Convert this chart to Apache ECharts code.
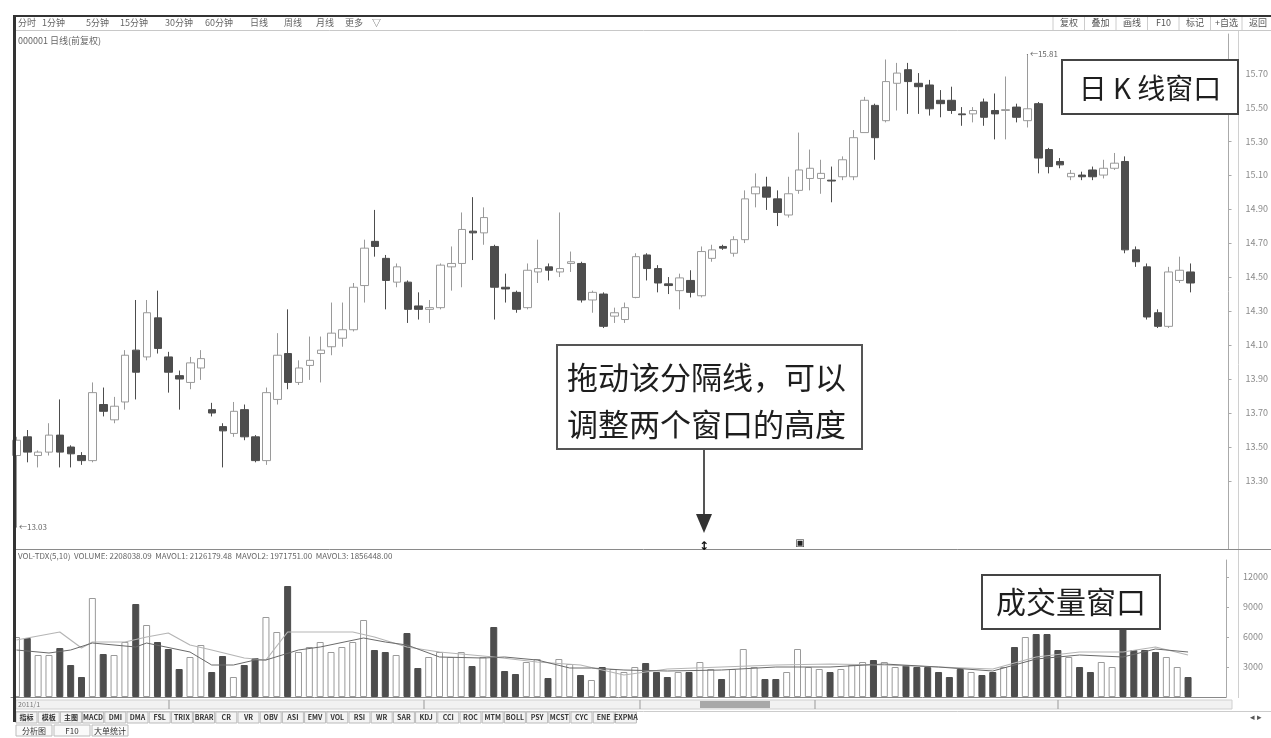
<!DOCTYPE html>
<html><head><meta charset="utf-8">
<script src="https://cdn.jsdelivr.net/npm/echarts/dist/echarts.min.js"></script>
<style>html,body{margin:0;padding:0;background:#fff}#c{width:1271px;height:738px}</style>
</head><body><div id="c"></div>
<script>
// ---------- data ----------
const categories = Array.from({length: 112}, (_, i) => 'D' + (i + 1));
const opens = [13.45,13.56,13.45,13.47,13.57,13.50,13.45,13.42,13.75,13.66,
13.765,14.07,14.03,14.26,14.03,13.92,13.88,13.965,13.72,13.62,
13.58,13.72,13.56,13.42,13.78,14.05,13.88,13.98,14.05,14.09,
14.14,14.19,14.45,14.71,14.61,14.47,14.47,14.33,14.31,14.32,
14.56,14.58,14.77,14.76,14.68,14.44,14.41,14.32,14.53,14.56,
14.53,14.58,14.58,14.365,14.40,14.27,14.25,14.38,14.63,14.55,
14.46,14.42,14.48,14.39,14.61,14.68,14.64,14.72,14.99,15.03,
14.96,14.865,15.01,15.08,15.08,15.07,15.09,15.09,15.35,15.51,
15.42,15.64,15.72,15.64,15.63,15.54,15.54,15.46,15.46,15.53,
15.48,15.48,15.50,15.42,15.52,15.25,15.18,15.09,15.10,15.13,
15.10,15.14,15.18,14.66,14.56,14.29,14.21,14.48,14.53];
const closes = [13.54,13.47,13.47,13.57,13.47,13.46,13.42,13.82,13.71,13.74,
14.04,13.94,14.29,14.08,13.94,13.90,13.995,14.02,13.70,13.595,
13.71,13.56,13.42,13.82,14.04,13.88,13.965,14.01,14.07,14.17,
14.19,14.44,14.67,14.68,14.48,14.56,14.31,14.31,14.32,14.57,
14.58,14.78,14.76,14.85,14.44,14.43,14.31,14.54,14.55,14.54,
14.55,14.59,14.365,14.41,14.21,14.29,14.32,14.62,14.55,14.465,
14.45,14.495,14.41,14.65,14.66,14.67,14.72,14.96,15.03,14.97,
14.88,14.99,15.13,15.14,15.11,15.065,15.19,15.32,15.54,15.32,
15.65,15.70,15.65,15.62,15.49,15.52,15.48,15.455,15.48,15.44,
15.46,15.485,15.44,15.49,15.20,15.15,15.16,15.11,15.09,15.09,
15.14,15.17,14.66,14.59,14.265,14.21,14.53,14.54,14.465];
const lows = [13.03,13.41,13.38,13.45,13.38,13.38,13.395,13.41,13.68,13.64,
13.72,13.78,14.01,14.05,13.82,13.72,13.84,13.895,13.68,13.38,
13.56,13.54,13.41,13.395,13.75,13.84,13.865,13.895,13.88,14.04,
14.09,14.18,14.35,14.62,14.31,14.44,14.23,14.25,14.23,14.31,
14.42,14.44,14.60,14.69,14.25,14.35,14.29,14.31,14.465,14.48,
14.50,14.53,14.35,14.29,14.20,14.23,14.23,14.375,14.48,14.41,
14.40,14.31,14.38,14.38,14.59,14.66,14.62,14.70,14.91,14.895,
14.80,14.85,14.99,15.01,14.99,14.94,15.07,15.07,15.35,15.19,
15.41,15.48,15.46,15.46,15.45,15.44,15.46,15.39,15.41,15.39,
15.31,15.31,15.41,15.38,15.11,15.11,15.14,15.07,15.07,15.07,
15.08,15.13,14.64,14.56,14.25,14.20,14.20,14.465,14.41];
const highs = [13.56,13.60,13.48,13.64,13.78,13.51,13.47,13.88,13.85,13.795,
14.07,14.365,14.365,14.42,14.06,13.95,14.03,14.07,13.76,13.64,
13.765,13.75,13.57,13.85,14.17,14.31,14.01,14.15,14.15,14.35,
14.35,14.465,14.72,14.895,14.63,14.58,14.48,14.41,14.365,14.58,
14.68,14.88,14.97,14.91,14.69,14.52,14.42,14.58,14.72,14.58,
14.88,14.65,14.59,14.42,14.41,14.32,14.35,14.64,14.64,14.57,
14.50,14.52,14.54,14.68,14.69,14.69,14.74,15.01,15.11,15.09,
15.01,15.09,15.35,15.25,15.19,15.15,15.21,15.365,15.56,15.52,
15.78,15.76,15.76,15.70,15.66,15.60,15.62,15.50,15.50,15.55,
15.58,15.68,15.52,15.81,15.53,15.26,15.20,15.13,15.12,15.15,
15.19,15.23,15.21,14.68,14.58,14.31,14.56,14.62,14.58];
const volumes = [6000,5900,4200,4200,4900,3200,2000,9900,4300,4200,
5500,9300,7200,5500,4800,2800,4000,5200,2500,4100,
2000,3200,3900,8000,6500,11100,4500,5000,5500,4500,
5000,5500,7700,4700,4500,4200,6400,2900,4000,4500,
4000,4500,3100,4000,7000,2600,2300,3500,3800,1900,
3800,3300,2200,1700,3000,2800,2500,3000,3400,2500,
2000,2500,2500,3500,2800,1800,2800,4800,3000,1800,
1800,2500,4800,3000,2800,2500,2800,3200,3500,3700,
3500,3000,3200,3000,3000,2500,2000,2800,2500,2200,
2500,3000,5000,6000,6300,6300,4700,4000,3000,2500,
3500,3000,7200,4700,4700,4500,4000,3000,2000];
// volume average lines, read at points along the curves (others left empty)
const volLineA = [5700,null,null,null,6500,null,4900,5500,null,null,5500,null,6000,null,6400,null,5200,null,4700,null,
null,3900,null,3700,null,6500,null,null,6500,null,null,6500,null,6000,null,null,5000,null,null,4500,
null,null,null,null,4000,null,null,null,3500,null,null,null,3200,null,null,null,2200,null,null,null,
2800,null,null,null,null,3000,null,null,null,null,3200,null,null,null,null,3300,null,null,null,null,
3200,null,null,null,null,3000,null,null,null,null,2800,null,null,null,4000,null,null,null,4500,null,
null,null,4500,null,null,5000,null,null,4200];
const volLineB = [4700,null,null,4400,null,4700,null,5400,null,null,null,5000,5400,null,null,null,4500,null,3200,null,
3200,null,3700,3700,null,null,4700,null,5000,null,null,null,5900,null,5500,null,5200,null,null,4000,
null,null,null,3900,null,4000,null,null,3700,null,null,2900,null,2900,null,null,2700,null,null,null,
2600,null,null,null,null,2700,null,null,null,null,3000,null,null,null,null,3000,null,null,null,null,
3300,null,null,null,null,3000,null,null,null,null,2600,null,null,null,3800,null,null,null,4200,null,
null,null,4000,null,null,4800,null,null,4500];
const priceTicks = [13.30,13.50,13.70,13.90,14.10,14.30,14.50,14.70,14.90,15.10,15.30,15.50,15.70];
const volTicks = [3000,6000,9000,12000];
const toolbarLeft = ['分时','1分钟','5分钟','15分钟','30分钟','60分钟','日线','周线','月线','更多','▽'];
const toolbarRight = ['复权','叠加','画线','F10','标记','+自选','返回'];
const bottomTabs = ['指标','模板','主图','MACD','DMI','DMA','FSL','TRIX','BRAR','CR','VR','OBV','ASI','EMV','VOL','RSI','WR','SAR','KDJ','CCI','ROC','MTM','BOLL','PSY','MCST','CYC','ENE','EXPMA'];
const bottomTabs2 = ['分析图','F10','大单统计'];

// ---------- chart ----------
const chart = echarts.init(document.getElementById('c'));
const candleData = opens.map((o, i) => [o, closes[i], lows[i], highs[i]]);
const volData = volumes.map((v, i) => ({
  value: v,
  itemStyle: closes[i] < opens[i]
    ? {color: '#4d4d4d', borderColor: '#4d4d4d', borderWidth: 1}
    : {color: '#ffffff', borderColor: '#9a9a9a', borderWidth: 1}
}));
const F = '"Noto Sans CJK SC", "Noto Sans", sans-serif';

const graphics = [];
// frame
graphics.push({type:'rect', shape:{x:13,y:15,width:3,height:707}, style:{fill:'#333'}, z:100});
graphics.push({type:'rect', shape:{x:13,y:15,width:1258,height:2}, style:{fill:'#333'}, z:100});
graphics.push({type:'line', shape:{x1:16,y1:30.5,x2:1271,y2:30.5}, style:{stroke:'#c8c8c8',lineWidth:1}});
graphics.push({type:'line', shape:{x1:16,y1:549.5,x2:1271,y2:549.5}, style:{stroke:'#8a8a8a',lineWidth:1}, z:50});
graphics.push({type:'line', shape:{x1:1238.5,y1:31,x2:1238.5,y2:698}, style:{stroke:'#d0d0d0',lineWidth:1}});
// toolbar
const tlX = [18,42,86,120,165,205,250,284,316,345,372];
toolbarLeft.forEach((t, i) => graphics.push({type:'text', x:tlX[i], y:23, style:{text:t, fill:'#666', font:'9px ' + F, textVerticalAlign:'middle'}}));
toolbarRight.forEach((t, i) => {
  graphics.push({type:'line', shape:{x1:1053 + i*31.5, y1:17, x2:1053 + i*31.5, y2:30}, style:{stroke:'#ccc'}});
  graphics.push({type:'text', x:1069 + i*31.5, y:23, style:{text:t, fill:'#555', font:'9px ' + F, textAlign:'center', textVerticalAlign:'middle'}});
});
graphics.push({type:'text', x:18, y:41, style:{text:'000001 日线(前复权)', fill:'#666', font:'9px ' + F, textVerticalAlign:'middle'}});
graphics.push({type:'text', x:18, y:556, style:{text:'VOL-TDX(5,10)  VOLUME: 2208038.09  MAVOL1: 2126179.48  MAVOL2: 1971751.00  MAVOL3: 1856448.00', fill:'#666', font:'8px ' + F, textVerticalAlign:'middle'}, z:60});
// bottom strip
graphics.push({type:'rect', shape:{x:16,y:700,width:1216,height:9}, style:{fill:'#f2f2f2', stroke:'#d0d0d0'}});
graphics.push({type:'rect', shape:{x:700,y:701,width:70,height:7}, style:{fill:'#a8a8a8'}});
graphics.push({type:'text', x:18, y:704.5, style:{text:'2011/1', fill:'#777', font:'7px ' + F, textVerticalAlign:'middle'}});
[169, 424, 640, 815, 1058].forEach(x => graphics.push({type:'line', shape:{x1:x,y1:700,x2:x,y2:709}, style:{stroke:'#999'}}));
graphics.push({type:'line', shape:{x1:16,y1:711.5,x2:1271,y2:711.5}, style:{stroke:'#ccc'}});
bottomTabs.forEach((t, i) => {
  const x = 16 + i*22.2;
  graphics.push({type:'rect', shape:{x:x,y:712,width:21,height:11}, style:{fill:'#f4f4f4', stroke:'#bbb'}});
  graphics.push({type:'text', x:x + 10.5, y:717.5, style:{text:t, fill:'#333', font:'bold 7px ' + F, textAlign:'center', textVerticalAlign:'middle'}});
});
bottomTabs2.forEach((t, i) => {
  const x = 16 + i*38;
  graphics.push({type:'rect', shape:{x:x,y:725,width:36,height:11}, style:{fill:'#fafafa', stroke:'#bbb'}});
  graphics.push({type:'text', x:x + 18, y:730.5, style:{text:t, fill:'#333', font:'8px ' + F, textAlign:'center', textVerticalAlign:'middle'}});
});
graphics.push({type:'text', x:1250, y:717, style:{text:'◂ ▸', fill:'#555', font:'9px ' + F, textVerticalAlign:'middle'}});
// annotations
graphics.push({type:'rect', shape:{x:1062,y:60,width:176,height:54}, style:{fill:'#fff', stroke:'#444', lineWidth:2}, z:80});
graphics.push({type:'text', x:1150, y:88, style:{text:'日 K 线窗口', fill:'#1e1e1e', font:'28px ' + F, textAlign:'center', textVerticalAlign:'middle'}, z:81});
graphics.push({type:'rect', shape:{x:557,y:345,width:305,height:104}, style:{fill:'#fff', stroke:'#555', lineWidth:2}, z:80});
graphics.push({type:'text', x:567, y:377, style:{text:'拖动该分隔线，可以', fill:'#1e1e1e', font:'31px ' + F, textVerticalAlign:'middle'}, z:81});
graphics.push({type:'text', x:567, y:424, style:{text:'调整两个窗口的高度', fill:'#1e1e1e', font:'31px ' + F, textVerticalAlign:'middle'}, z:81});
graphics.push({type:'rect', shape:{x:982,y:575,width:178,height:54}, style:{fill:'#fff', stroke:'#444', lineWidth:2}, z:80});
graphics.push({type:'text', x:1071, y:602, style:{text:'成交量窗口', fill:'#1e1e1e', font:'30px ' + F, textAlign:'center', textVerticalAlign:'middle'}, z:81});
graphics.push({type:'line', shape:{x1:704,y1:450,x2:704,y2:516}, style:{stroke:'#555', lineWidth:2}, z:80});
graphics.push({type:'polygon', shape:{points:[[696,514],[712,514],[704,533]]}, style:{fill:'#333'}, z:80});
graphics.push({type:'text', x:704, y:547, style:{text:'↕', fill:'#111', font:'bold 12px "DejaVu Sans"', textAlign:'center', textVerticalAlign:'middle'}, z:80});
graphics.push({type:'text', x:800, y:543, style:{text:'▣', fill:'#222', font:'10px "DejaVu Sans"', textAlign:'center', textVerticalAlign:'middle'}, z:80});

const option = {
  animation: false,
  backgroundColor: '#ffffff',
  grid: [
    {left: 11, right: 39, top: 34, height: 515},
    {left: 11, right: 39, top: 560, height: 137}
  ],
  xAxis: [
    {type:'category', data:categories, gridIndex:0, boundaryGap:true, axisLine:{show:false}, axisTick:{show:false}, axisLabel:{show:false}, splitLine:{show:false}},
    {type:'category', data:categories, gridIndex:1, boundaryGap:true, axisLine:{show:true, lineStyle:{color:'#888'}}, axisTick:{show:false}, axisLabel:{show:false}, splitLine:{show:false}}
  ],
  yAxis: [
    {type:'value', gridIndex:0, position:'right', min:12.90, max:15.93, scale:true,
     axisLine:{show:true, lineStyle:{color:'#aaa'}}, axisTick:{show:true, length:3, customValues:priceTicks, lineStyle:{color:'#aaa'}},
     axisLabel:{customValues:priceTicks, formatter:v => v.toFixed(2), color:'#8a8a8a', fontSize:9, margin:17, fontFamily:F},
     splitLine:{show:false}},
    {type:'value', gridIndex:1, position:'right', min:0, max:13700,
     axisLine:{show:true, lineStyle:{color:'#aaa'}}, axisTick:{show:true, length:3, customValues:volTicks, lineStyle:{color:'#aaa'}},
     axisLabel:{customValues:volTicks, formatter:v => String(v), color:'#8a8a8a', fontSize:9, margin:17, fontFamily:F},
     splitLine:{show:false}}
  ],
  series: [
    {type:'candlestick', xAxisIndex:0, yAxisIndex:0, data:candleData, barWidth:8,
     itemStyle:{color:'#ffffff', color0:'#4d4d4d', borderColor:'#9a9a9a', borderColor0:'#4d4d4d', borderWidth:1},
     markPoint:{symbol:'rect', symbolSize:1, itemStyle:{color:'#777'},
       label:{show:true, position:'right', distance:2, color:'#666', fontSize:8, fontFamily:F},
       data:[
         {coord:[categories[0], lows[0]], label:{formatter:'←' + lows[0].toFixed(2)}},
         {coord:[categories[93], highs[93]], label:{formatter:'←' + highs[93].toFixed(2)}}
       ]}},
    {type:'bar', xAxisIndex:1, yAxisIndex:1, data:volData, barWidth:7},
    {type:'line', xAxisIndex:1, yAxisIndex:1, data:volLineA, connectNulls:true, symbol:'none', lineStyle:{color:'#b5b5b5', width:1.2}, z:5},
    {type:'line', xAxisIndex:1, yAxisIndex:1, data:volLineB, connectNulls:true, symbol:'none', lineStyle:{color:'#6a6a6a', width:1}, z:5}
  ],
  graphic: graphics
};
chart.setOption(option);
</script>
</body></html>
